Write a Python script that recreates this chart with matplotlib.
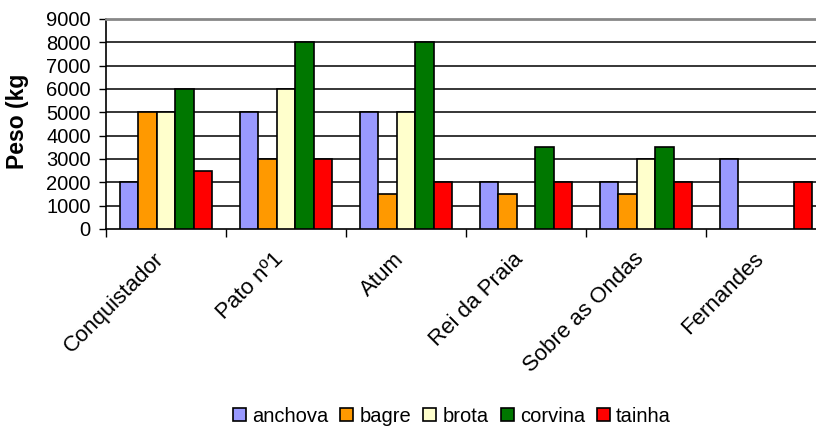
import numpy as np
from matplotlib import pyplot as plt
from matplotlib.transforms import ScaledTranslation

categories = ["Conquistador", "Pato nº1", "Atum", "Rei da Praia", "Sobre as Ondas", "Fernandes"]
series_names = ["anchova", "bagre", "brota", "corvina", "tainha"]
anchova = [2000, 5000, 5000, 2000, 2000, 3000]
bagre = [5000, 3000, 1500, 1500, 1500, None]
brota = [5000, 6000, 5000, None, 3000, None]
corvina = [6000, 8000, 8000, 3500, 3500, None]
tainha = [2500, 3000, 2000, 2000, 2000, 2000]
colors = ["#9999ff", "#ff9900", "#ffffcc", "#007700", "#ff0000"]

plt.rcParams["font.family"] = ["Liberation Sans", "DejaVu Sans"]

fig = plt.figure(figsize=(8.16, 4.30), dpi=100)
ax = fig.add_axes([106 / 816, 201 / 430, 720 / 816, 210 / 430])

w = 1 / 6.5
x = np.arange(len(categories))
for i, (name, vals) in enumerate(zip(series_names, [anchova, bagre, brota, corvina, tainha])):
    xs = [xi + (i - 2) * w for xi, v in zip(x, vals) if v is not None]
    ys = [v for v in vals if v is not None]
    ax.bar(xs, ys, width=w, color=colors[i], edgecolor="black", linewidth=1.2,
           label=name, zorder=3)

for y in range(1000, 9000, 1000):
    ax.axhline(y, color="black", linewidth=1.1, zorder=1)

ax.set_xlim(-0.5, len(categories) - 0.5)
ax.set_ylim(0, 9000)
ax.set_yticks(range(0, 9001, 1000))
ax.tick_params(axis="y", labelsize=14.5, length=5, width=1, pad=6)

ax.set_xticks(np.arange(len(categories) + 1) - 0.5)
ax.set_xticklabels([])
ax.tick_params(axis="x", which="major", length=6, width=1)
ax.set_xticks(x, minor=True)
ax.set_xticklabels(categories, minor=True, rotation=45, ha="right",
                   rotation_mode="anchor", fontsize=16)
ax.tick_params(axis="x", which="minor", length=0, pad=14)
shift = ScaledTranslation(-13 / 100, 0, fig.dpi_scale_trans)
for lbl in ax.get_xticklabels(minor=True):
    lbl.set_transform(lbl.get_transform() + shift)

ax.spines["right"].set_visible(False)
ax.spines["top"].set_color("#888888")
ax.spines["top"].set_linewidth(2)
ax.spines["left"].set_linewidth(1.2)
ax.spines["bottom"].set_linewidth(1.2)

fig.text(18 / 816, 1 - 121 / 430, "Peso (kg", rotation=90, ha="center", va="center",
         fontsize=16.5, fontweight="bold")

fig.legend(loc="center", bbox_to_anchor=(452 / 816, 1 - 416 / 430), ncol=5,
           frameon=False, fontsize=14.5, handlelength=0.65, handleheight=0.65,
           handletextpad=0.3, columnspacing=0.6, borderaxespad=0)

fig.savefig("out.png", dpi=100)
